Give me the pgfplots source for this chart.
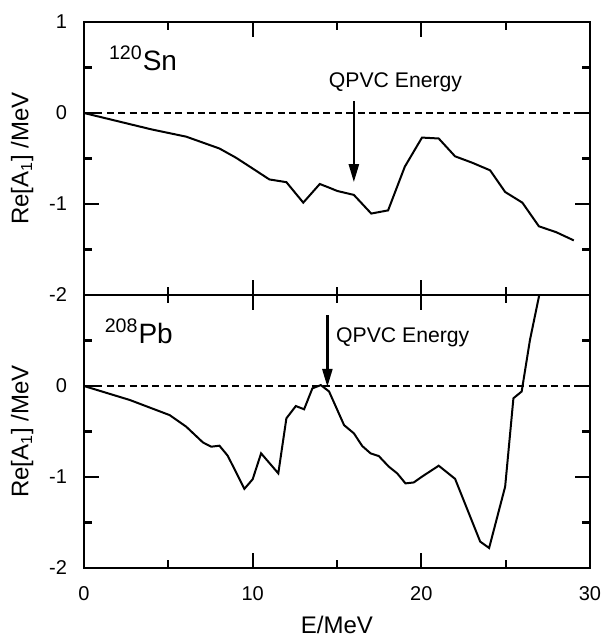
\documentclass[border=0pt]{standalone}
\usepackage{fontspec}
\setmainfont{Liberation Sans}
\usepackage{pgfplots}
\pgfplotsset{compat=1.18}
\usetikzlibrary{arrows.meta}

\pgfplotsset{
  panel/.style={
    scale only axis,
    width=253pt, height=136.5pt,
    xmin=0, xmax=30, ymin=-2, ymax=1,
    xtick={0,10,20,30}, minor xtick={5,15,25},
    minor ytick={-1.5,-0.5,0.5},
    tick align=inside,
    major tick length=7.5pt, minor tick length=4pt,
    axis line style={line width=1.4pt},
    every tick/.style={line width=1.1pt, black},
    /pgf/number format/assume math mode=true,
    tick label style={font=\fontsize{10}{12}\selectfont},
    yticklabel style={anchor=east, xshift=-5pt},
    ylabel={Re[A\textsubscript{1}] /MeV},
    ylabel style={at={(axis description cs:-0.122,0.5)}, anchor=center, font=\fontsize{12}{14}\selectfont},
  },
  curve/.style={black, line width=1pt, no marks},
  zero/.style={black, line width=0.8pt, dash pattern=on 3.5pt off 2.2pt},
}

\begin{document}
\begin{tikzpicture}
\path[use as bounding box] (-42pt,-38pt) rectangle (260.5pt,284pt);

% top: 120Sn
\begin{axis}[panel, at={(0,136.5pt)}, xticklabels={}, ytick={-2,-1,0,1}]
\addplot[zero] coordinates {(0,0) (30,0)};
\addplot[curve] coordinates {
(0,0) (4.0,-0.18) (6.06,-0.26) (8.03,-0.39) (9.0,-0.49) (10.0,-0.61)
(10.99,-0.73) (12.0,-0.76) (13.0,-0.985) (13.98,-0.78) (14.53,-0.82)
(15.02,-0.857) (16.0,-0.90) (17.03,-1.105) (18.03,-1.07) (19.02,-0.59)
(20.04,-0.27) (21.03,-0.28) (22.0,-0.476) (23.0,-0.545) (24.08,-0.63)
(24.97,-0.868) (25.99,-0.985) (26.97,-1.245) (28.0,-1.31) (29.04,-1.40)
};
\draw[line width=1.2pt, -{Triangle[length=9pt,width=5pt]}] (axis cs:16,0.13) -- (axis cs:16,-0.76);
\node[font=\fontsize{10.6}{12}\selectfont] at (axis cs:18.47,0.34) {QPVC Energy};
\node[font=\fontsize{14}{16}\selectfont] at (axis cs:3.5,0.6) {\textsuperscript{120}Sn};
\end{axis}

% bottom: 208Pb
\begin{axis}[panel, at={(0,0)}, ytick={-2,-1,0},
  xlabel={E/MeV},
  xticklabel style={anchor=center, yshift=-13pt},
  xlabel style={at={(axis description cs:0.5,0)}, yshift=-28.5pt, anchor=center, font=\fontsize{12}{14}\selectfont}]
\addplot[zero] coordinates {(0,0) (30,0)};
\addplot[curve] coordinates {
(0,0) (2.72,-0.154) (5.08,-0.32) (6.06,-0.447) (7.05,-0.62) (7.54,-0.667)
(8.03,-0.656) (8.52,-0.766) (9.51,-1.13) (10.0,-1.025) (10.5,-0.74)
(11.52,-0.96) (12.0,-0.355) (12.56,-0.22) (13.05,-0.256) (13.54,-0.026)
(14.04,0.01) (14.53,-0.06) (15.42,-0.43) (16.0,-0.52) (16.5,-0.66)
(16.99,-0.74) (17.48,-0.77) (18.07,-0.886) (18.57,-0.96) (19.06,-1.07)
(19.55,-1.06) (20.04,-0.996) (21.03,-0.876) (22.0,-1.02) (23.49,-1.71)
(24.02,-1.78) (24.97,-1.106) (25.46,-0.135) (25.95,-0.06) (26.44,0.505)
(26.97,0.98) (27.1,1.1)
};
\draw[line width=1.2pt, -{Triangle[length=9pt,width=5pt]}] (axis cs:14.43,0.78) -- (axis cs:14.43,-0.01);
\node[font=\fontsize{10.6}{12}\selectfont] at (axis cs:18.9,0.54) {QPVC Energy};
\node[font=\fontsize{14}{16}\selectfont] at (axis cs:3.25,0.6) {\textsuperscript{208}Pb};
\end{axis}
\end{tikzpicture}
\end{document}
